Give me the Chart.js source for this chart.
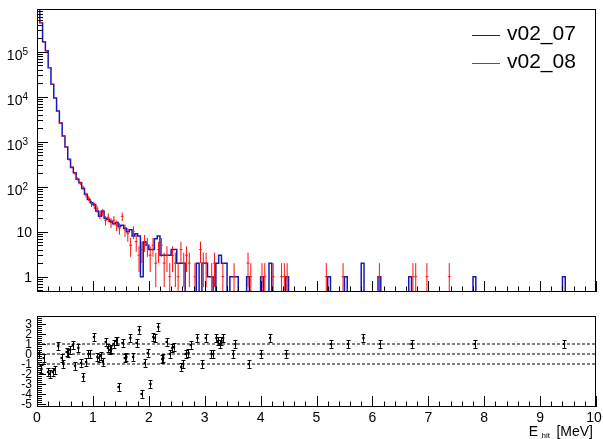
<!DOCTYPE html>
<html><head><meta charset="utf-8">
<script src="https://cdn.jsdelivr.net/npm/chart.js@4/dist/chart.umd.min.js"></script>
<style>
html,body{margin:0;padding:0;background:#fff;}
#wrap{position:relative;width:603px;height:439px;overflow:hidden;background:#fff;}
canvas{position:absolute;left:0;}
</style></head><body>
<div id="wrap">
<canvas id="top" width="603" height="300" style="top:0;width:603px;height:300px"></canvas>
<canvas id="bot" width="603" height="139" style="top:300px;width:603px;height:139px"></canvas>
</div>
<script>
// ---------------- DATA ----------------
const seriesNames = ['v02_07', 'v02_08'];
const BIN_WIDTH = 0.05;            // MeV per bin, 200 bins over 0..10 MeV
const X_MIN = 0, X_MAX = 10;

// v02_07 : histogram counts per bin (blue line)
const counts_v02_07 = [
 1200000,440000,167000,105000,44000,19000,9400,4800,2600,1340,
 760,408,267,205,146,123,91,68,52,44,
 40,29,22,29,20,19,17,15,16,13,
 14,12,10,11,8,9,8,1,6,5,
 4,4,7,8,3,3,3,3,4,4,
 2,2,2,0,0,0,0,2,0,2,
 2,1,1,0,2,3,2,2,0,1,
 1,1,0,0,0,1,0,0,0,0,
 1,0,0,2,0,0,0,0,0,1,
 0,0,0,0,0,0,0,0,0,0,
 0,0,0,0,1,0,0,0,0,0,
 1,0,0,0,0,0,2,0,0,0,
 0,0,1,0,0,0,0,0,0,0,
 0,0,0,1,0,0,0,0,0,0,
 0,0,0,0,0,0,0,0,0,0,
 0,0,0,0,0,0,1,0,0,0,
 0,0,0,0,0,0,0,0,0,0,
 0,0,0,0,0,0,0,0,0,0,
 0,0,0,0,0,0,0,0,1,0,
 0,0,0,0,0,0,0,0,0,0
];
// v02_08 : histogram counts per bin (red points with error bars)
const counts_v02_08 = [
 1210000,445000,165000,104000,44500,18800,9500,4700,2650,1320,
 770,400,275,200,150,120,95,66,55,42,
 38,32,24,27,18,21,16,18,14,12,
 22,11,9,5,10,6,3,4,6,5,
 3,5,2,4,5,2,3,1,3,2,
 1,4,2,3,2,0,1,0,4,2,
 2,0,1,2,0,0,1,0,0,0,
 1,0,0,0,0,2,1,0,0,0,
 1,1,0,0,1,0,0,1,1,1,
 0,0,0,0,0,0,0,0,0,0,
 0,0,0,1,0,0,0,0,0,1,
 0,0,0,0,0,0,0,0,0,0,
 0,0,1,0,0,0,0,0,0,0,
 0,0,0,0,1,1,0,0,0,1,
 0,0,0,0,0,0,0,1,0,0,
 0,0,0,0,0,0,0,0,0,0,
 0,0,0,0,0,0,0,0,0,0,
 0,0,0,0,0,0,0,0,0,0,
 0,0,0,0,0,0,0,0,0,0,
 0,0,0,0,0,0,0,0,0,0
];

// lower panel: pull values
const pullX = [0.04,0.08,0.12,0.20,0.23,0.28,0.32,0.38,0.44,0.47,0.53,0.56,0.59,0.64,0.68,0.74,0.79,0.83,0.88,0.92,0.95,
 1.02,1.08,1.11,1.14,1.18,1.23,1.27,1.30,1.33,1.37,1.41,1.43,1.46,1.53,1.57,1.60,1.67,1.72,1.78,1.83,1.87,1.93,1.98,
 2.03,2.08,2.11,2.17,2.24,2.26,2.32,2.38,2.42,2.45,2.58,2.61,2.66,2.71,2.75,2.87,2.96,
 3.02,3.12,3.15,3.21,3.24,3.27,3.30,3.33,3.51,3.55,3.79,4.01,4.17,4.46,5.26,5.56,5.84,6.14,6.70,7.83,9.43];
const pullY = [0.0,-1.5,-0.4,-1.8,-2.0,-1.8,-1.6,0.8,-0.4,-1.0,0.2,0.1,0.4,0.9,-1.2,0.6,-0.9,-2.3,-0.8,0.0,0.0,
 1.7,-0.3,-0.4,-0.2,-0.8,1.2,0.6,0.4,0.5,1.0,1.3,1.3,-3.3,1.1,-0.4,-0.3,1.6,-0.3,1.1,2.4,-4.0,-0.9,0.1,
 -3.0,1.7,1.6,2.7,-0.5,-0.4,1.2,0.0,0.6,0.7,-1.3,-1.0,0.0,0.1,0.9,1.6,-1.0,
 1.6,0.0,0.0,1.6,1.3,1.0,1.3,1.6,0.0,1.0,-1.0,0.0,1.6,0.0,1.0,1.0,1.6,1.0,1.0,1.0,1.0];
const pullErr = pullX.map(() => 0.38);

const yTicksTop = [1, 10, 100, 1000, 10000, 100000];
const yTicksBottom = [3, 2, 1, 0, -1, -2, -3, -4, -5];
const xTickLabels = ['0','1','2','3','4','5','6','7','8','9','10'];
const refLines = [1, 0, -1];
const xTitle = {main: 'E', sub: 'hit', unit: '[MeV]'};

// ---------------- STYLE ----------------
const BLUE = '#1818b8';
const RED = '#ff1010';
const FONT = "'Liberation Sans', Arial, Helvetica, sans-serif";
const Y_MIN = 0.457, Y_MAX = 8.9e5;
const P_MIN = -5.3, P_MAX = 3.8;

// histogram step points (bin low edges) built from counts
const blueSteps = [{x: X_MIN, y: Y_MIN}];
counts_v02_07.forEach((c, i) => blueSteps.push({x: i * BIN_WIDTH, y: c > 0 ? c : Y_MIN}));
blueSteps.push({x: X_MAX, y: Y_MIN});

const redCenters = [];
counts_v02_08.forEach((c, i) => { if (c > 0) redCenters.push({x: (i + 0.5) * BIN_WIDTH, y: c}); });

function frame(ctx, a) {
  ctx.save();
  ctx.strokeStyle = '#000'; ctx.lineWidth = 1;
  ctx.strokeRect(Math.round(a.left) + 0.5, Math.round(a.top) + 0.5, Math.round(a.right - a.left) - 1, Math.round(a.bottom - a.top) - 1);
  ctx.restore();
}
function xTicks(ctx, xs, a) {
  ctx.save(); ctx.strokeStyle = '#000'; ctx.lineWidth = 1; ctx.beginPath();
  for (let n = 0; n <= 50; n++) {
    const v = n * 0.2;
    const px = Math.round(xs.getPixelForValue(v)) + 0.5;
    const len = (n % 5 === 0) ? 11 : 5.5;
    ctx.moveTo(px, a.bottom); ctx.lineTo(px, a.bottom - len);
  }
  ctx.stroke(); ctx.restore();
}

const topPlugin = {
  id: 'topDeco',
  afterDatasetsDraw(chart) {
    const {ctx, chartArea: a, scales: {x, y}} = chart;
    ctx.save();
    ctx.beginPath(); ctx.rect(a.left, a.top, a.right - a.left, a.bottom - a.top); ctx.clip();
    ctx.strokeStyle = RED; ctx.lineWidth = 1;
    const meta = chart.getDatasetMeta(1);
    meta.data.forEach((pt, k) => {
      const c = redCenters[k].y;
      const e = Math.sqrt(c);
      const yHi = y.getPixelForValue(c + e);
      const yLo = (c - e) > Y_MIN ? y.getPixelForValue(c - e) : a.bottom;
      const x0 = x.getPixelForValue(redCenters[k].x - BIN_WIDTH / 2);
      const x1 = x.getPixelForValue(redCenters[k].x + BIN_WIDTH / 2);
      ctx.beginPath();
      ctx.moveTo(pt.x, yHi); ctx.lineTo(pt.x, yLo);
      ctx.moveTo(x0, pt.y); ctx.lineTo(x1, pt.y);
      ctx.stroke();
    });
    ctx.restore();
  },
  afterDraw(chart) {
    const {ctx, chartArea: a, scales: {x, y}} = chart;
    frame(ctx, a);
    xTicks(ctx, x, a);
    // y log ticks
    ctx.save(); ctx.strokeStyle = '#000'; ctx.lineWidth = 1; ctx.beginPath();
    for (let k = -1; k <= 6; k++) for (let m = 1; m <= 9; m++) {
      const v = m * Math.pow(10, k);
      if (v < Y_MIN || v > Y_MAX) continue;
      const py = Math.round(y.getPixelForValue(v)) + 0.5;
      ctx.moveTo(a.left, py); ctx.lineTo(a.left + (m === 1 ? 11 : 6), py);
    }
    ctx.stroke();
    // y labels
    ctx.fillStyle = '#000'; ctx.textBaseline = 'alphabetic';
    yTicksTop.forEach(v => {
      const py = y.getPixelForValue(v);
      const ex = Math.round(Math.log10(v));
      if (ex <= 1) {
        ctx.font = '14px ' + FONT; ctx.textAlign = 'right';
        ctx.fillText(String(v), 32, py + 5);
      } else {
        ctx.font = '10px ' + FONT; ctx.textAlign = 'right';
        ctx.fillText(String(ex), 28, py + 3.5);
        const w = ctx.measureText(String(ex)).width;
        ctx.font = '14px ' + FONT;
        ctx.fillText('10', 28 - w, py + 8.3);
      }
    });
    // legend
    const legendRows = [{name: seriesNames[0], color: BLUE, ly: 35.5, ty: 40}, {name: seriesNames[1], color: RED, ly: 63.5, ty: 68}];
    legendRows.forEach(r => {
      ctx.strokeStyle = r.color; ctx.lineWidth = 1;
      ctx.beginPath(); ctx.moveTo(472, r.ly); ctx.lineTo(500, r.ly); ctx.stroke();
      ctx.font = '21px ' + FONT; ctx.textAlign = 'left'; ctx.fillStyle = '#000';
      ctx.fillText(r.name, 507, r.ty);
    });
    ctx.restore();
  }
};

new Chart(document.getElementById('top'), {
  type: 'line',
  data: {datasets: [
    {label: seriesNames[0], data: blueSteps, stepped: 'before', borderColor: BLUE, borderWidth: 1.5, pointRadius: 0, fill: false, tension: 0},
    {label: seriesNames[1], data: redCenters, showLine: false, pointRadius: 0, borderColor: RED, backgroundColor: RED}
  ]},
  options: {
    responsive: false, animation: false, devicePixelRatio: 1, events: [],
    layout: {padding: {left: 37, right: 7, top: 9, bottom: 8}},
    plugins: {legend: {display: false}, tooltip: {enabled: false}},
    scales: {
      x: {type: 'linear', min: X_MIN, max: X_MAX, display: false},
      y: {type: 'logarithmic', min: Y_MIN, max: Y_MAX, display: false}
    }
  },
  plugins: [topPlugin]
});

// ---------------- lower panel ----------------
const botPlugin = {
  id: 'botDeco',
  afterDatasetsDraw(chart) {
    const {ctx, chartArea: a, scales: {x, y}} = chart;
    ctx.save(); ctx.strokeStyle = '#000'; ctx.lineWidth = 1;
    const meta = chart.getDatasetMeta(0);
    meta.data.forEach((pt, k) => {
      const yHi = y.getPixelForValue(pullY[k] + pullErr[k]);
      const yLo = y.getPixelForValue(pullY[k] - pullErr[k]);
      const px = Math.round(pt.x) + 0.5;
      ctx.beginPath();
      ctx.moveTo(px, yHi); ctx.lineTo(px, yLo);
      ctx.moveTo(px - 2, Math.round(yHi) + 0.5); ctx.lineTo(px + 2, Math.round(yHi) + 0.5);
      ctx.moveTo(px - 2, Math.round(yLo) + 0.5); ctx.lineTo(px + 2, Math.round(yLo) + 0.5);
      ctx.stroke();
    });
    ctx.restore();
  },
  afterDraw(chart) {
    const {ctx, chartArea: a, scales: {x, y}} = chart;
    frame(ctx, a);
    xTicks(ctx, x, a);
    ctx.save(); ctx.strokeStyle = '#000'; ctx.lineWidth = 1; ctx.beginPath();
    for (let n = -27; n <= 19; n++) {
      const v = n * 0.2;
      if (v < P_MIN || v > P_MAX) continue;
      const py = Math.round(y.getPixelForValue(v)) + 0.5;
      ctx.moveTo(a.left, py); ctx.lineTo(a.left + (n % 5 === 0 ? 9 : 5), py);
    }
    ctx.stroke();
    ctx.fillStyle = '#000';
    ctx.font = '12px ' + FONT; ctx.textAlign = 'right'; ctx.textBaseline = 'alphabetic';
    yTicksBottom.forEach(v => ctx.fillText(String(v), 32, y.getPixelForValue(v) + 4.3));
    ctx.font = '14px ' + FONT; ctx.textAlign = 'center';
    xTickLabels.forEach((lab, i) => {
      let px = x.getPixelForValue(Number(lab));
      if (px > 595) px = 594;
      ctx.fillText(lab, px, 122);
    });
    // axis title
    ctx.textAlign = 'right';
    ctx.font = '14px ' + FONT; ctx.fillText(xTitle.unit, 593, 136);
    ctx.font = '8px ' + FONT; ctx.fillText(xTitle.sub, 550, 138);
    ctx.font = '14px ' + FONT; ctx.fillText(xTitle.main, 538, 136);
    ctx.restore();
  }
};

const refDatasets = refLines.map(v => ({
  type: 'line', data: [{x: X_MIN, y: v}, {x: X_MAX, y: v}], borderColor: '#000', borderWidth: 1,
  borderDash: [3, 2], pointRadius: 0, fill: false, tension: 0
}));

new Chart(document.getElementById('bot'), {
  type: 'scatter',
  data: {datasets: [
    {label: 'pull', data: pullX.map((xv, i) => ({x: xv, y: pullY[i]})), pointStyle: 'rect', pointRadius: 1.6, backgroundColor: '#000', borderWidth: 0},
    ...refDatasets
  ]},
  options: {
    responsive: false, animation: false, devicePixelRatio: 1, events: [],
    layout: {padding: {left: 37, right: 7, top: 16, bottom: 32}},
    plugins: {legend: {display: false}, tooltip: {enabled: false}},
    scales: {
      x: {type: 'linear', min: X_MIN, max: X_MAX, display: false},
      y: {type: 'linear', min: P_MIN, max: P_MAX, display: false}
    }
  },
  plugins: [botPlugin]
});
</script>
</body></html>
